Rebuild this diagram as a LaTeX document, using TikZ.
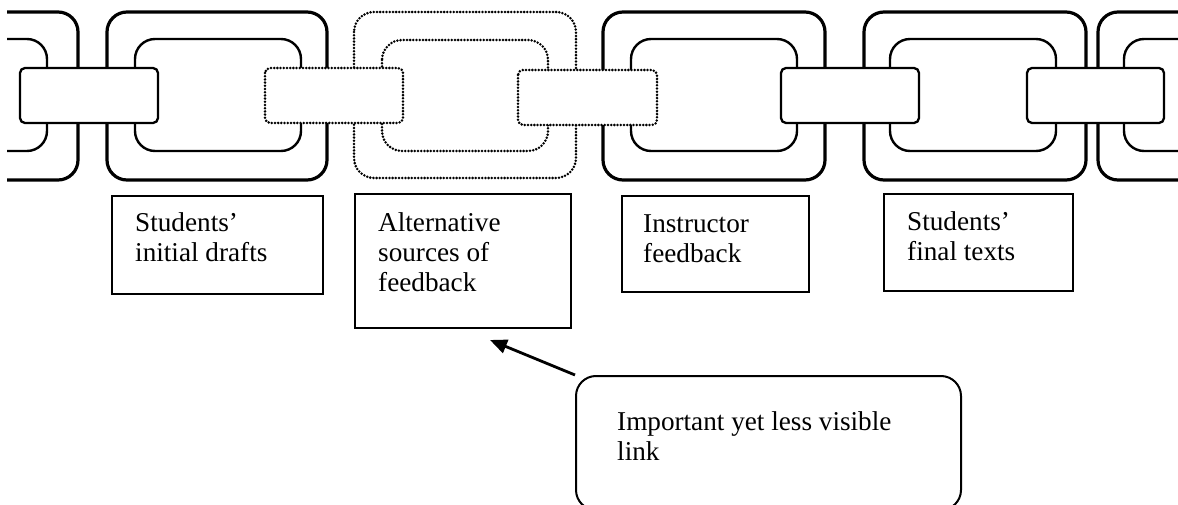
\documentclass[tikz,border=0pt]{standalone}
\usepackage{fontspec}
\setmainfont{Liberation Serif}
\usetikzlibrary{arrows.meta}
\begin{document}
\begin{tikzpicture}[x=1pt,y=-1pt,
  outerring/.style={draw, line width=3.2pt, rounded corners=20pt},
  innerring/.style={draw, line width=2.4pt, rounded corners=20pt},
  clasp/.style={draw, line width=2.3pt, rounded corners=5pt, fill=white},
  faint/.style={dash pattern=on 0pt off 3.2pt, line cap=round, line width=2.8pt},
  labelbox/.style={draw, line width=2pt, anchor=north west, inner sep=0pt},
  labeltext/.style={anchor=base west, inner sep=0pt, font=\fontsize{27.2}{30}\selectfont},
]
\useasboundingbox (0,0) rectangle (1178,505);

% the chain
\begin{scope}
  \clip (7,0) rectangle (1178,505);
  % links
  \path[outerring] (-142,12) rectangle (78,180);
  \path[innerring] (-114,39) rectangle (47,151);
  \path[outerring] (107,12) rectangle (327,180);
  \path[innerring] (135,39) rectangle (301,151);
  \path[outerring,faint] (354,12) rectangle (576,178);
  \path[innerring,faint] (382,40) rectangle (548,151);
  \path[outerring] (603,12) rectangle (825,180);
  \path[innerring] (631,39) rectangle (797,151);
  \path[outerring] (864,12) rectangle (1086,180);
  \path[innerring] (890,39) rectangle (1056,151);
  \path[outerring] (1098,12) rectangle (1320,180);
  \path[innerring] (1124,39) rectangle (1290,151);
  % clasps joining the links
  \path[clasp] (20,68) rectangle (158,123);
  \path[clasp,faint] (265,68) rectangle (403,123);
  \path[clasp,faint] (518,70) rectangle (657,125);
  \path[clasp] (781,68) rectangle (919,123);
  \path[clasp] (1027,68) rectangle (1164,123);
\end{scope}

% labels under the links
\node[labelbox, minimum width=211pt, minimum height=98pt] (b1) at (111,195) {};
\node[labeltext] (t1) at (135,232) {\begin{tabular}[t]{@{}l@{}}Students’\\initial drafts\end{tabular}};

\node[labelbox, minimum width=216pt, minimum height=134pt] (b2) at (354,193) {};
\node[labeltext] (t2) at (378,232) {\begin{tabular}[t]{@{}l@{}}Alternative\\sources of\\feedback\end{tabular}};

\node[labelbox, minimum width=187pt, minimum height=96pt] (b3) at (621,195) {};
\node[labeltext] (t3) at (643,233) {\begin{tabular}[t]{@{}l@{}}Instructor\\feedback\end{tabular}};

\node[labelbox, minimum width=189pt, minimum height=97pt] (b4) at (883,193) {};
\node[labeltext] (t4) at (907,230) {\begin{tabular}[t]{@{}l@{}}Students’\\final texts\end{tabular}};

% callout
\begin{scope}
  \clip (0,0) rectangle (1178,505);
  \node[draw, line width=2pt, rounded corners=20pt, anchor=north west,
        minimum width=385pt, minimum height=134pt, inner sep=0pt] (callout) at (575,375) {};
\end{scope}
\node[labeltext] (t5) at (617,430) {\begin{tabular}[t]{@{}l@{}}Important yet less visible\\link\end{tabular}};

\coordinate (tip) at (490,340);
\draw[line width=2.8pt, -{Triangle[length=17pt,width=14pt]}] (callout.north west) -- (tip);
\end{tikzpicture}
\end{document}
